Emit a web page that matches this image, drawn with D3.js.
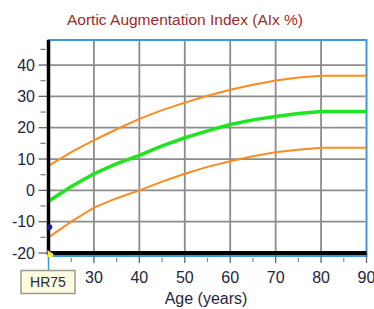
<!DOCTYPE html>
<html>
<head>
<meta charset="utf-8">
<script src="https://cdn.jsdelivr.net/npm/d3@7"></script>
<style>
  body { margin: 0; background: #fff; }
  svg { display: block; font-family: "Liberation Sans", Arial, sans-serif; }
</style>
</head>
<body>
<div id="chart"></div>
<script>
// ages sampled every 5 years
const ages = [20, 25, 30, 35, 40, 45, 50, 55, 60, 65, 70, 75, 80, 85, 90];
const upperBand = [7.8, 12.2, 16.0, 19.5, 22.8, 25.6, 28.0, 30.2, 32.1, 33.7, 35.1, 36.0, 36.6, 36.6, 36.6];
const meanLine  = [-3.5, 1.2, 5.3, 8.5, 11.2, 14.2, 16.8, 19.0, 21.0, 22.5, 23.6, 24.5, 25.2, 25.2, 25.2];
const lowerBand = [-15.0, -10.0, -5.5, -2.5, 0.0, 2.8, 5.3, 7.5, 9.3, 10.9, 12.2, 13.0, 13.6, 13.6, 13.6];
const yTicks = [-20, -10, 0, 10, 20, 30, 40];
const yMinor = [-15, -5, 5, 15, 25, 35, 45];
const xTicks = [30, 40, 50, 60, 70, 80, 90];
const xMinor = [25, 35, 45, 55, 65, 75, 85];
const patientPoint = { age: 20, aix: -11.7 };
const cornerMark = { age: 20, aix: -20 };
const tagLabel = "HR75";

const width = 374, height = 309;
const svg = d3.select("#chart").append("svg")
  .attr("width", width)
  .attr("height", height);

const x = d3.scaleLinear().domain([20, 90]).range([48.5, 366.5]);
const y = d3.scaleLinear().domain([-20, 48]).range([253, 40]);

// title
svg.append("text")
  .attr("x", 185)
  .attr("y", 25)
  .attr("text-anchor", "middle")
  .attr("font-size", 15.5)
  .attr("fill", "#a02a28")
  .text("Aortic Augmentation Index (AIx %)");

// blue frame
svg.append("rect")
  .attr("x", x(20))
  .attr("y", y(48))
  .attr("width", x(90) - x(20))
  .attr("height", y(-20) + 3 - y(48))
  .attr("fill", "none")
  .attr("stroke", "#3a9ad8")
  .attr("stroke-width", 2);

// grid
svg.append("g").selectAll("line")
  .data(yTicks.filter(d => d > -20))
  .enter().append("line")
  .attr("x1", x(20)).attr("x2", x(90) - 1)
  .attr("y1", d => y(d)).attr("y2", d => y(d))
  .attr("stroke", "#8c8c8c")
  .attr("stroke-width", 1.8);

svg.append("g").selectAll("line")
  .data(xTicks.filter(d => d < 90))
  .enter().append("line")
  .attr("x1", d => x(d)).attr("x2", d => x(d))
  .attr("y1", y(48) + 1).attr("y2", y(-20))
  .attr("stroke", "#8c8c8c")
  .attr("stroke-width", 1.8);

// y ticks and labels
const yAxis = svg.append("g");
yAxis.selectAll("line.major")
  .data(yTicks).enter().append("line")
  .attr("class", "major")
  .attr("x1", x(20) - 10).attr("x2", x(20))
  .attr("y1", d => y(d)).attr("y2", d => y(d))
  .attr("stroke", "#666").attr("stroke-width", 1.3);
yAxis.selectAll("line.minor")
  .data(yMinor).enter().append("line")
  .attr("class", "minor")
  .attr("x1", x(20) - 8).attr("x2", x(20) - 3)
  .attr("y1", d => y(d)).attr("y2", d => y(d))
  .attr("stroke", "#777").attr("stroke-width", 1.2);
yAxis.selectAll("text")
  .data(yTicks).enter().append("text")
  .attr("x", 35)
  .attr("y", d => y(d) + 5.5)
  .attr("text-anchor", "end")
  .attr("font-size", 16)
  .attr("fill", "#1e2640")
  .text(d => d);

// x ticks and labels
const xAxis = svg.append("g");
xAxis.selectAll("line.major")
  .data(xTicks).enter().append("line")
  .attr("class", "major")
  .attr("x1", d => x(d)).attr("x2", d => x(d))
  .attr("y1", y(-20)).attr("y2", y(-20) + 10)
  .attr("stroke", "#666").attr("stroke-width", 1.3);
xAxis.selectAll("line.minor")
  .data(xMinor).enter().append("line")
  .attr("class", "minor")
  .attr("x1", d => x(d)).attr("x2", d => x(d))
  .attr("y1", y(-20) + 5).attr("y2", y(-20) + 9)
  .attr("stroke", "#888").attr("stroke-width", 1.2);
xAxis.selectAll("text")
  .data(xTicks).enter().append("text")
  .attr("x", d => x(d))
  .attr("y", 283)
  .attr("text-anchor", "middle")
  .attr("font-size", 16)
  .attr("fill", "#1e2640")
  .text(d => d);

svg.append("text")
  .attr("x", 206)
  .attr("y", 304)
  .attr("text-anchor", "middle")
  .attr("font-size", 16)
  .attr("fill", "#1e2640")
  .text("Age (years)");

// curves
const line = d3.line()
  .x(d => x(d[0]))
  .y(d => y(d[1]));

const series = [
  { values: upperBand, color: "#ff8a1e", w: 2 },
  { values: lowerBand, color: "#ff8a1e", w: 2 },
  { values: meanLine, color: "#1ee61e", w: 3.5 }
];
series.forEach(s => {
  svg.append("path")
    .datum(ages.map((a, i) => [a, s.values[i]]))
    .attr("fill", "none")
    .attr("stroke", s.color)
    .attr("stroke-width", s.w)
    .attr("d", line);
});

// black axes
svg.append("line")
  .attr("x1", x(20)).attr("x2", x(20))
  .attr("y1", y(48)).attr("y2", y(-20) + 2)
  .attr("stroke", "#000").attr("stroke-width", 3.5);
svg.append("line")
  .attr("x1", x(20)).attr("x2", x(90))
  .attr("y1", y(-20)).attr("y2", y(-20))
  .attr("stroke", "#000").attr("stroke-width", 4);

// blue cursor line down to tag
svg.append("line")
  .attr("x1", x(20)).attr("x2", x(20))
  .attr("y1", y(-20) + 2).attr("y2", 270)
  .attr("stroke", "#3a9ad8").attr("stroke-width", 1.5);

// markers
svg.append("path")
  .datum(cornerMark)
  .attr("d", d => {
    const cx = x(d.age), cy = y(d.aix);
    return `M${cx - 1},${cy - 3}L${cx + 5},${cy + 1}L${cx + 4},${cy + 4}L${cx - 1},${cy + 4}Z`;
  })
  .attr("fill", "#f4ee3a");

svg.append("circle")
  .datum(patientPoint)
  .attr("cx", d => x(d.age) + 1)
  .attr("cy", d => y(d.aix))
  .attr("r", 2.8)
  .attr("fill", "#1a1aa0");

// HR tag
const tag = svg.append("g");
tag.append("rect")
  .attr("x", 21).attr("y", 270.5)
  .attr("width", 54).attr("height", 23)
  .attr("fill", "#fdfbe0")
  .attr("stroke", "#9a9a8a")
  .attr("stroke-width", 1.5);
tag.append("text")
  .attr("x", 48)
  .attr("y", 287)
  .attr("text-anchor", "middle")
  .attr("font-size", 14)
  .attr("fill", "#2a2a3a")
  .text(tagLabel);
</script>
</body>
</html>
